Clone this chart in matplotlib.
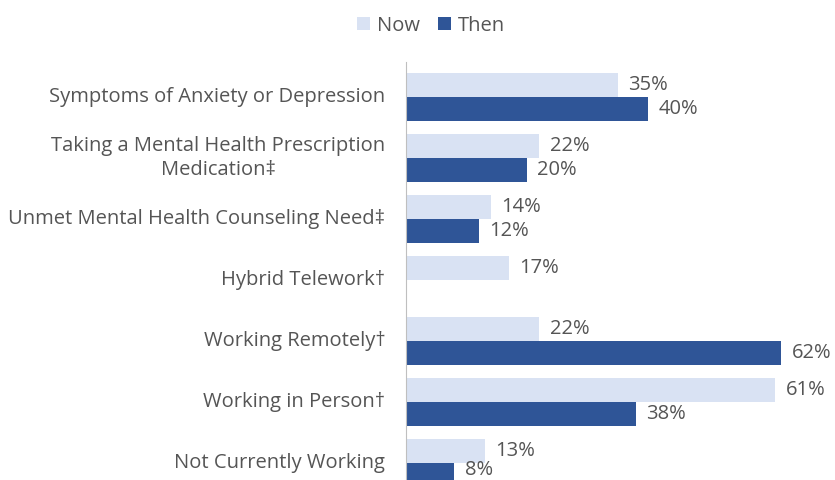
import numpy as np
import matplotlib.pyplot as plt

categories = [
    "Symptoms of Anxiety or Depression",
    "Taking a Mental Health Prescription\nMedication\u2021",
    "Unmet Mental Health Counseling Need\u2021",
    "Hybrid Telework\u2020",
    "Working Remotely\u2020",
    "Working in Person\u2020",
    "Not Currently Working",
]
now = [35, 22, 14, 17, 22, 61, 13]
then = [40, 20, 12, None, 62, 38, 8]

light = "#d9e2f3"
dark = "#2f5597"
txt = "#555555"

plt.rcParams['font.family'] = ['Open Sans', 'DejaVu Sans']
fs = 14.5

fig = plt.figure(figsize=(8.35, 4.80), dpi=100)
ax = fig.add_axes([406 / 835, 0.0, 429 / 835, (480 - 61.6) / 480])

y = np.arange(len(categories))
h = 0.4
ax.barh(y - h / 2, now, height=h, color=light, label="Now")
then_y = [yy + h / 2 for yy, v in zip(y, then) if v is not None]
then_v = [v for v in then if v is not None]
ax.barh(then_y, then_v, height=h, color=dark, label="Then")

for yy, v in zip(y, now):
    ax.annotate(f"{v}%", (v, yy - h / 2), xytext=(7.5, 0), textcoords="offset points",
                va="center", ha="left", fontsize=fs, color=txt)
for i, (yy, v) in enumerate(zip(then_y, then_v)):
    # last label sits at the bottom edge; nudge it up so it stays inside
    dy = 4 if i == len(then_v) - 1 else 0
    ax.annotate(f"{v}%", (v, yy), xytext=(7.5, dy), textcoords="offset points",
                va="center", ha="left", fontsize=fs, color=txt, annotation_clip=False)

for yy, c in zip(y, categories):
    ax.annotate(c, (0, yy), xytext=(-15, 0), textcoords="offset points",
                ha="right", va="center", multialignment="center",
                fontsize=fs, color=txt, annotation_clip=False, linespacing=1.3)

ax.set_xlim(0, 429 / 6.05)
ax.set_ylim(6.28, -0.58)
ax.set_xticks([])
ax.set_yticks([])
for s in ["top", "right", "bottom"]:
    ax.spines[s].set_visible(False)
ax.spines["left"].set_color("#bfbfbf")

fig.legend(loc="upper center", bbox_to_anchor=(0.516, 1.005), ncol=2, frameon=False,
           fontsize=fs, handlelength=0.65, handleheight=0.65, handletextpad=0.35,
           columnspacing=0.9, labelcolor=txt)

fig.savefig("out.png", dpi=100)
